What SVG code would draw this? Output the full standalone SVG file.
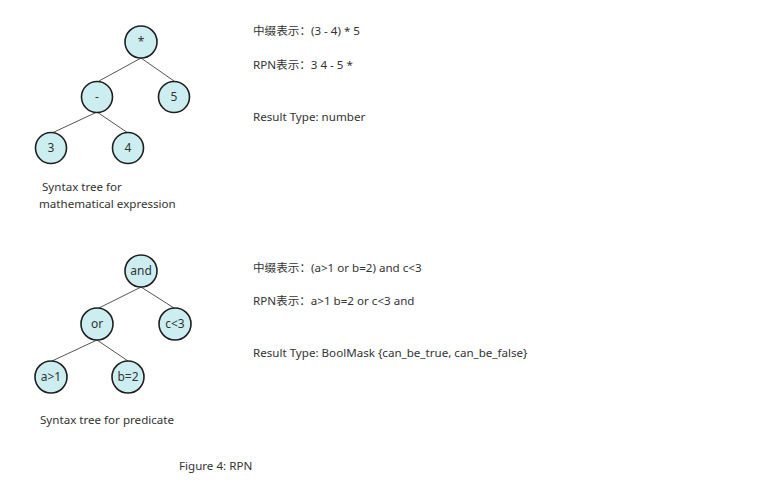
<svg xmlns="http://www.w3.org/2000/svg" width="765" height="483" viewBox="0 0 765 483">
<style>
.bg{fill:#ffffff}
.n circle{fill:#cdeef0;stroke:#1e1e1e;stroke-width:1.6}
.n text{font-family:"Noto Sans","Liberation Sans",sans-serif;font-size:12px;fill:#333;text-anchor:middle}
.e line{stroke:#555;stroke-width:1}
.t{font-family:"Noto Sans","Liberation Sans","Noto Sans CJK SC",sans-serif;font-size:11.6px;fill:#333}
</style>
<rect class="bg" width="765" height="483"/>
<g id="edges" class="e">
<line x1="141" y1="58" x2="99" y2="81"/>
<line x1="141" y1="58" x2="174" y2="81"/>
<line x1="97" y1="112" x2="52" y2="133"/>
<line x1="97" y1="112" x2="128" y2="133"/>
<line x1="141" y1="287" x2="99" y2="308"/>
<line x1="141" y1="287" x2="174" y2="308"/>
<line x1="97" y1="340" x2="52" y2="361"/>
<line x1="97" y1="340" x2="128" y2="361"/>
</g>
<g id="n-mul" class="n"><circle cx="141" cy="42" r="16"/><text x="141" y="46">*</text></g>
<g id="n-minus" class="n"><circle cx="97" cy="97" r="15.5"/><text x="97" y="101">-</text></g>
<g id="n-5" class="n"><circle cx="174" cy="97" r="15.5"/><text x="174" y="101">5</text></g>
<g id="n-3" class="n"><circle cx="51" cy="148" r="15.5"/><text x="51" y="152">3</text></g>
<g id="n-4" class="n"><circle cx="128" cy="148" r="15.5"/><text x="128" y="152">4</text></g>
<g id="n-and" class="n"><circle cx="141" cy="271" r="16"/><text x="141" y="275">and</text></g>
<g id="n-or" class="n"><circle cx="97" cy="324" r="16"/><text x="97" y="328">or</text></g>
<g id="n-c3" class="n"><circle cx="175" cy="324" r="16"/><text x="175" y="328">c&lt;3</text></g>
<g id="n-a1" class="n"><circle cx="51" cy="377" r="16"/><text x="51" y="381">a&gt;1</text></g>
<g id="n-b2" class="n"><circle cx="128" cy="377" r="16"/><text x="128" y="381">b=2</text></g>
<text class="t" x="253" y="35">中缀表示：(3 - 4) * 5</text>
<text class="t" x="253" y="69">RPN表示：3 4 - 5 *</text>
<text class="t" x="253" y="121">Result Type: number</text>
<text class="t" x="42" y="191">Syntax tree for</text>
<text class="t" x="39" y="208">mathematical expression</text>
<text class="t" x="253" y="272">中缀表示：(a&gt;1 or b=2) and c&lt;3</text>
<text class="t" x="253" y="305">RPN表示：a&gt;1 b=2 or c&lt;3 and</text>
<text class="t" x="253" y="357">Result Type: BoolMask {can_be_true, can_be_false}</text>
<text class="t" x="40" y="424">Syntax tree for predicate</text>
<text class="t" x="179" y="470">Figure 4: RPN</text>
</svg>
